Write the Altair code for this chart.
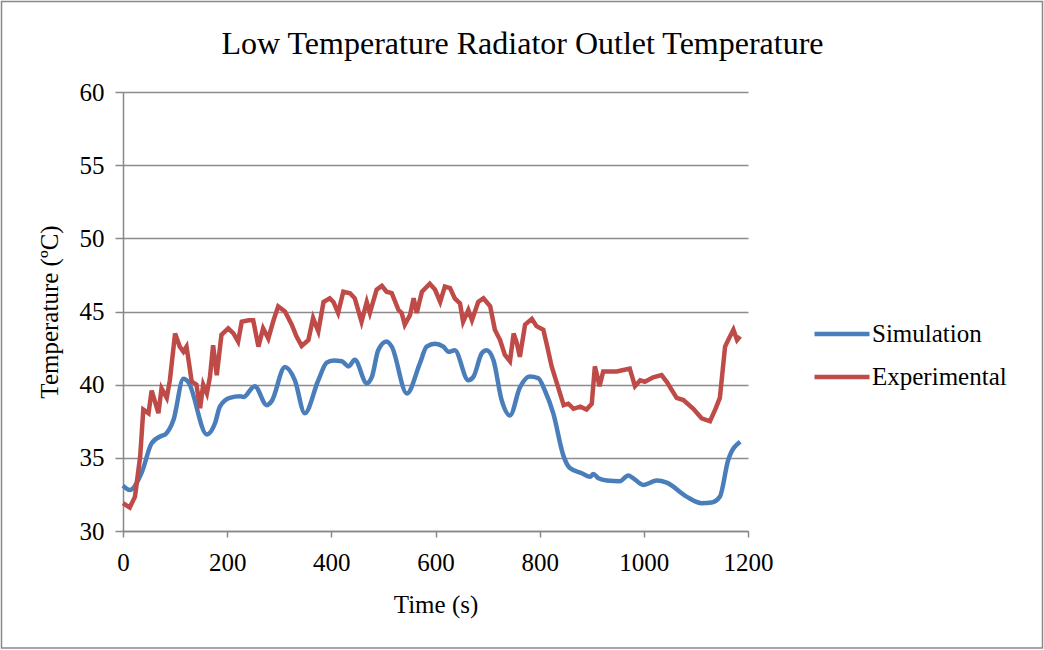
import altair as alt
import pandas as pd

sim_t = [0,13,36,55,74,81,97,116,125,161,177,186,205,225,231,253,276,285,311,330,
         349,375,391,404,420,433,445,468,478,490,506,516,545,570,583,599,615,625,637,663,
         673,689,698,711,727,743,762,781,797,810,826,846,858,881,897,903,913,929,954,970,
         980,999,1025,1044,1082,1111,1130,1146,1162,1185]
sim_v = [33.1,32.8,34.0,36.0,36.5,36.6,37.6,40.4,40.2,36.6,37.4,38.5,39.1,39.2,39.15,39.9,38.6,38.85,41.2,40.3,
         38.05,40.3,41.5,41.65,41.6,41.25,41.7,40.1,40.55,42.35,42.95,42.6,39.4,41.45,42.6,42.8,42.6,42.25,42.35,40.3,
         40.55,42.15,42.35,41.7,38.95,37.9,39.8,40.55,40.45,39.6,38.05,35.1,34.3,33.95,33.7,33.9,33.6,33.45,33.4,33.8,
         33.6,33.15,33.45,33.3,32.35,31.9,31.95,32.35,34.85,36.1]

exp_t = [0,13,23,33,39,49,55,68,74,84,90,100,109,116,122,132,141,148,154,161,
         167,173,180,189,202,212,221,228,241,250,260,269,279,289,298,311,324,333,343,356,
         365,375,385,397,404,413,423,436,445,458,468,474,487,497,506,516,529,535,541,551,
         558,564,574,589,599,609,618,628,637,647,653,663,670,682,692,705,714,724,733,743,
         750,756,762,772,785,794,807,814,823,833,846,855,865,878,890,900,906,915,922,932,
         948,961,973,983,993,1002,1018,1034,1044,1063,1076,1095,1111,1127,1137,1146,1156,1162,1172,1179,
         1185]
exp_v = [31.9,31.6,32.35,35.1,38.3,38.05,39.6,38.05,39.75,39.1,40.3,43.5,42.6,42.25,42.6,40.2,40.0,38.4,40.0,39.4,
         40.55,42.7,40.65,43.4,43.85,43.5,42.95,44.3,44.4,44.4,42.6,43.85,43.15,44.4,45.35,45.0,44.1,43.3,42.65,43.05,
         44.55,43.65,45.65,45.9,45.65,44.9,46.35,46.25,45.9,44.3,45.65,44.9,46.5,46.75,46.35,46.25,45.1,44.9,44.1,44.75,
         45.9,44.9,46.35,46.9,46.5,45.65,46.7,46.6,45.9,45.55,44.3,45.1,44.4,45.65,45.9,45.35,43.75,43.05,42.05,41.6,
         43.5,42.85,41.9,44.1,44.5,44.0,43.75,42.7,41.25,40.1,38.6,38.7,38.35,38.5,38.3,38.7,41.25,39.9,40.9,40.9,
         40.9,41.0,41.1,39.9,40.3,40.2,40.5,40.65,40.2,39.1,38.95,38.35,37.7,37.5,38.3,39.1,42.6,43.05,43.75,43.05,
         43.3]

series_names = ["Simulation", "Experimental"]
series_colors = ["#4a7ebb", "#be4b48"]

sim = pd.DataFrame({"t": sim_t, "v": sim_v, "series": "Simulation"})
exp = pd.DataFrame({"t": exp_t, "v": exp_v, "series": "Experimental"})

FONT = "Liberation Serif"

x_enc = alt.X("t:Q", title="Time (s)",
              scale=alt.Scale(domain=[0, 1200], nice=False),
              axis=alt.Axis(values=[0, 200, 400, 600, 800, 1000, 1200], grid=False,
                            format="d", labelFlush=False, tickSize=6, labelPadding=13,
                            titlePadding=17,
                            domainColor="#888888", tickColor="#888888",
                            domainWidth=1.5, tickWidth=1.5))
y_enc = alt.Y("v:Q", title="Temperature (ºC)",
              scale=alt.Scale(domain=[30, 60], nice=False),
              axis=alt.Axis(values=[30, 35, 40, 45, 50, 55, 60], grid=True,
                            gridColor="#8c8c8c", gridWidth=1.6,
                            tickSize=8, labelPadding=11, titlePadding=17,
                            domainColor="#888888", tickColor="#888888",
                            domainWidth=1.5, tickWidth=1.5))
color_enc = alt.Color("series:N", title=None,
                      scale=alt.Scale(domain=series_names, range=series_colors),
                      legend=alt.Legend(orient="none", legendX=689, legendY=212,
                                        symbolType="stroke", symbolSize=3025,
                                        symbolStrokeWidth=4.5, labelFontSize=25,
                                        labelFont=FONT, labelColor="black",
                                        rowPadding=-10, labelOffset=0))

sim_line = alt.Chart(sim).mark_line(strokeWidth=4.5, interpolate="monotone").encode(
    x=x_enc, y=y_enc, color=color_enc)
exp_line = alt.Chart(exp).mark_line(strokeWidth=4.5).encode(
    x=x_enc, y=y_enc, color=color_enc)

border = alt.Chart(pd.DataFrame({"a": [0]})).mark_rect(
    fill=None, stroke="#888888", strokeWidth=1.5).encode(
    x=alt.value(-121.5), x2=alt.value(919.5), y=alt.value(-90.5), y2=alt.value(556))

chart = alt.layer(border, sim_line, exp_line).properties(
    width=625, height=439,
    title=alt.TitleParams("Low Temperature Radiator Outlet Temperature",
                          font=FONT, fontSize=32, fontWeight="normal", color="black",
                          anchor="middle", dx=87, offset=-60),
    padding={"left": 123, "top": 92, "right": 296, "bottom": 119},
    autosize=alt.AutoSizeParams(type="none"),
    background="white",
).configure_view(stroke=None).configure_axis(
    labelFont=FONT, titleFont=FONT, labelFontSize=25, titleFontSize=25,
    labelColor="black", titleColor="black", titleFontWeight="normal"
)

chart.save("out.html", embed_options={"renderer": "svg", "actions": False})
